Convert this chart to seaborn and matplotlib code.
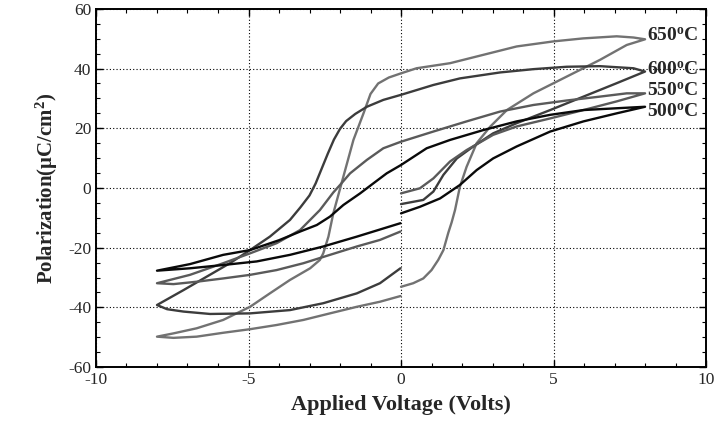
import numpy as np
import pandas as pd
import seaborn as sns
import matplotlib.pyplot as plt
from matplotlib.ticker import MultipleLocator

# P-E hysteresis loops (Volts, uC/cm2)
# each loop: start at 0+, up to +8, upper branch to -8, lower branch back to 0-
v_650 = [0, 0.4, 0.73, 1.0, 1.22, 1.39, 1.55, 1.66, 1.77, 1.93, 2.15, 2.48, 2.92, 3.47, 4.34, 5.43, 6.52, 7.4, 8.0,
         7.62, 7.07, 5.97, 5.0, 3.79, 2.7, 1.61, 0.51, 0.0, -0.4, -0.75, -1.0, -1.23, -1.56, -1.89, -2.22, -2.38,
         -2.55, -2.66, -2.98, -3.64, -4.3, -4.95, -5.83, -6.7, -7.46, -8.0,
         -7.46, -6.7, -5.83, -4.95, -4.08, -3.2, -2.33, -1.45, -0.69, -0.02]
p_650 = [-33.1, -31.9, -30.3, -27.5, -24.1, -20.8, -15.0, -11.5, -7.4, 0.4, 7.1, 15.0, 20.5, 26.1, 31.7, 37.3, 42.9, 47.9, 49.8,
         50.4, 50.8, 50.1, 49.1, 47.4, 44.6, 41.8, 40.1, 38.4, 37.0, 35.0, 31.5, 25.0, 16.1, 3.8, -8.5, -16.3,
         -21.9, -24.1, -26.9, -30.8, -35.3, -39.8, -44.2, -47.0, -48.7, -49.8,
         -50.2, -49.8, -48.5, -47.3, -45.9, -44.2, -42.0, -39.8, -38.1, -36.2]

v_600 = [0, 0.73, 1.06, 1.39, 1.83, 2.37, 3.02, 3.79, 4.89, 5.98, 7.07, 8.0,
         7.62, 6.52, 5.43, 4.34, 3.25, 1.93, 1.06, 0.0, -0.58, -1.12, -1.5, -1.8, -2.0, -2.2, -2.4, -2.6, -2.8,
         -3.0, -3.3, -3.64, -4.3, -4.95, -5.61, -6.37, -7.13, -8.0,
         -7.67, -7.13, -6.26, -4.95, -3.64, -2.55, -1.45, -0.69, -0.02]
p_600 = [-5.4, -4.0, -1.2, 4.4, 9.9, 13.9, 18.3, 21.7, 26.1, 30.6, 35.1, 39.0,
         40.1, 40.8, 40.6, 39.8, 38.7, 36.7, 34.5, 31.2, 29.5, 27.2, 24.8, 22.4, 19.8, 16.2, 11.5, 6.5, 1.5,
         -2.5, -6.5, -10.7, -16.3, -20.8, -25.2, -29.7, -34.2, -39.2,
         -40.6, -41.4, -42.2, -42.0, -40.9, -38.6, -35.3, -31.9, -26.9]

v_550 = [0, 0.62, 1.06, 1.61, 2.15, 3.02, 3.79, 4.89, 5.98, 7.07, 8.0,
         7.4, 6.52, 5.43, 4.34, 3.25, 2.15, 1.06, 0.0, -0.58, -1.12, -1.67, -2.0, -2.22, -2.66, -3.31, -4.08,
         -4.95, -5.83, -6.92, -8.0,
         -7.46, -6.7, -5.83, -4.95, -4.08, -3.2, -2.33, -1.45, -0.69, -0.02]
p_550 = [-1.8, -0.1, 3.2, 8.9, 12.7, 17.8, 20.6, 23.3, 26.1, 29.0, 31.7,
         31.7, 30.6, 29.3, 27.8, 25.6, 22.3, 18.9, 15.5, 13.3, 9.4, 4.9, 1.0, -1.5, -7.4, -14.1, -18.5,
         -21.9, -25.2, -29.1, -31.9,
         -32.2, -31.4, -30.3, -29.1, -27.5, -25.2, -22.4, -19.6, -17.4, -14.6]

v_500 = [0, 0.62, 1.28, 1.93, 2.48, 3.02, 3.79, 4.89, 5.98, 7.07, 8.0,
         7.07, 5.98, 4.89, 3.79, 2.7, 1.61, 0.84, 0.0, -0.47, -0.9, -1.34, -1.89, -2.33, -2.76, -3.31, -4.0,
         -4.95, -5.83, -6.92, -8.0,
         -6.92, -5.83, -4.73, -3.64, -2.55, -1.45, -0.02]
p_500 = [-8.5, -6.3, -3.5, 1.0, 6.0, 9.9, 13.9, 18.9, 22.3, 25.0, 27.2,
         26.7, 26.1, 24.5, 22.3, 19.4, 16.1, 13.3, 7.7, 4.9, 1.6, -1.8, -5.7, -9.6, -12.4, -14.6, -17.5,
         -20.8, -22.4, -25.5, -27.7,
         -26.9, -25.8, -24.6, -22.4, -19.6, -16.3, -11.8]

temps = ['650', '600', '550', '500']
label_y = [50.8, 39.5, 32.6, 25.6]
colors = ['#727272', '#3c3c3c', '#5a5a5a', '#0a0a0a']

loops = {'650': (v_650, p_650), '600': (v_600, p_600), '550': (v_550, p_550), '500': (v_500, p_500)}
frames = []
for t in temps:
    v, p = loops[t]
    frames.append(pd.DataFrame({'V': v, 'P': p, 'temp': t, 'k': np.arange(len(v))}))
df = pd.concat(frames, ignore_index=True)

sns.set_style('ticks')
plt.rcParams['font.family'] = ['Liberation Serif', 'DejaVu Serif']
plt.rcParams['axes.unicode_minus'] = False
plt.rcParams['mathtext.fontset'] = 'custom'
plt.rcParams['mathtext.rm'] = 'Liberation Serif'
plt.rcParams['mathtext.bf'] = 'Liberation Serif:bold'
plt.rcParams['mathtext.it'] = 'Liberation Serif:italic'

fig = plt.figure(figsize=(7.19, 4.21), dpi=100)
ax = fig.add_axes([0.1335, 0.128, 0.8485, 0.851])

sns.lineplot(data=df, x='V', y='P', hue='temp', units='temp', estimator=None, sort=False,
             palette=dict(zip(temps, colors)), linewidth=1.7, legend=False, ax=ax)

for t, y in zip(temps, label_y):
    ax.text(8.05, y, t + r'$^{\mathbf{o}}$C', fontsize=14, fontweight='bold', ha='left', va='center')

ax.set_xlim(-10, 10)
ax.set_ylim(-60, 60)
ax.xaxis.set_major_locator(MultipleLocator(5))
ax.xaxis.set_minor_locator(MultipleLocator(1))
ax.yaxis.set_major_locator(MultipleLocator(20))
ax.yaxis.set_minor_locator(MultipleLocator(5))
ax.tick_params(which='both', direction='in', top=True, right=True, labelsize=12.5, color='black')
ax.tick_params(which='major', length=5, width=1)
ax.tick_params(which='minor', length=3, width=0.8)
ax.grid(True, which='major', color='black', linestyle=(0, (1, 2)), linewidth=0.8)
for s in ax.spines.values():
    s.set_linewidth(1.4)
    s.set_color('black')

ax.set_xlabel('Applied Voltage (Volts)', fontsize=16, fontweight='bold', labelpad=5)
ax.set_ylabel(r'Polarization(μC/cm$^{\mathbf{2}}$)', fontsize=15, fontweight='bold', labelpad=6)

fig.savefig('out.png', dpi=100)
